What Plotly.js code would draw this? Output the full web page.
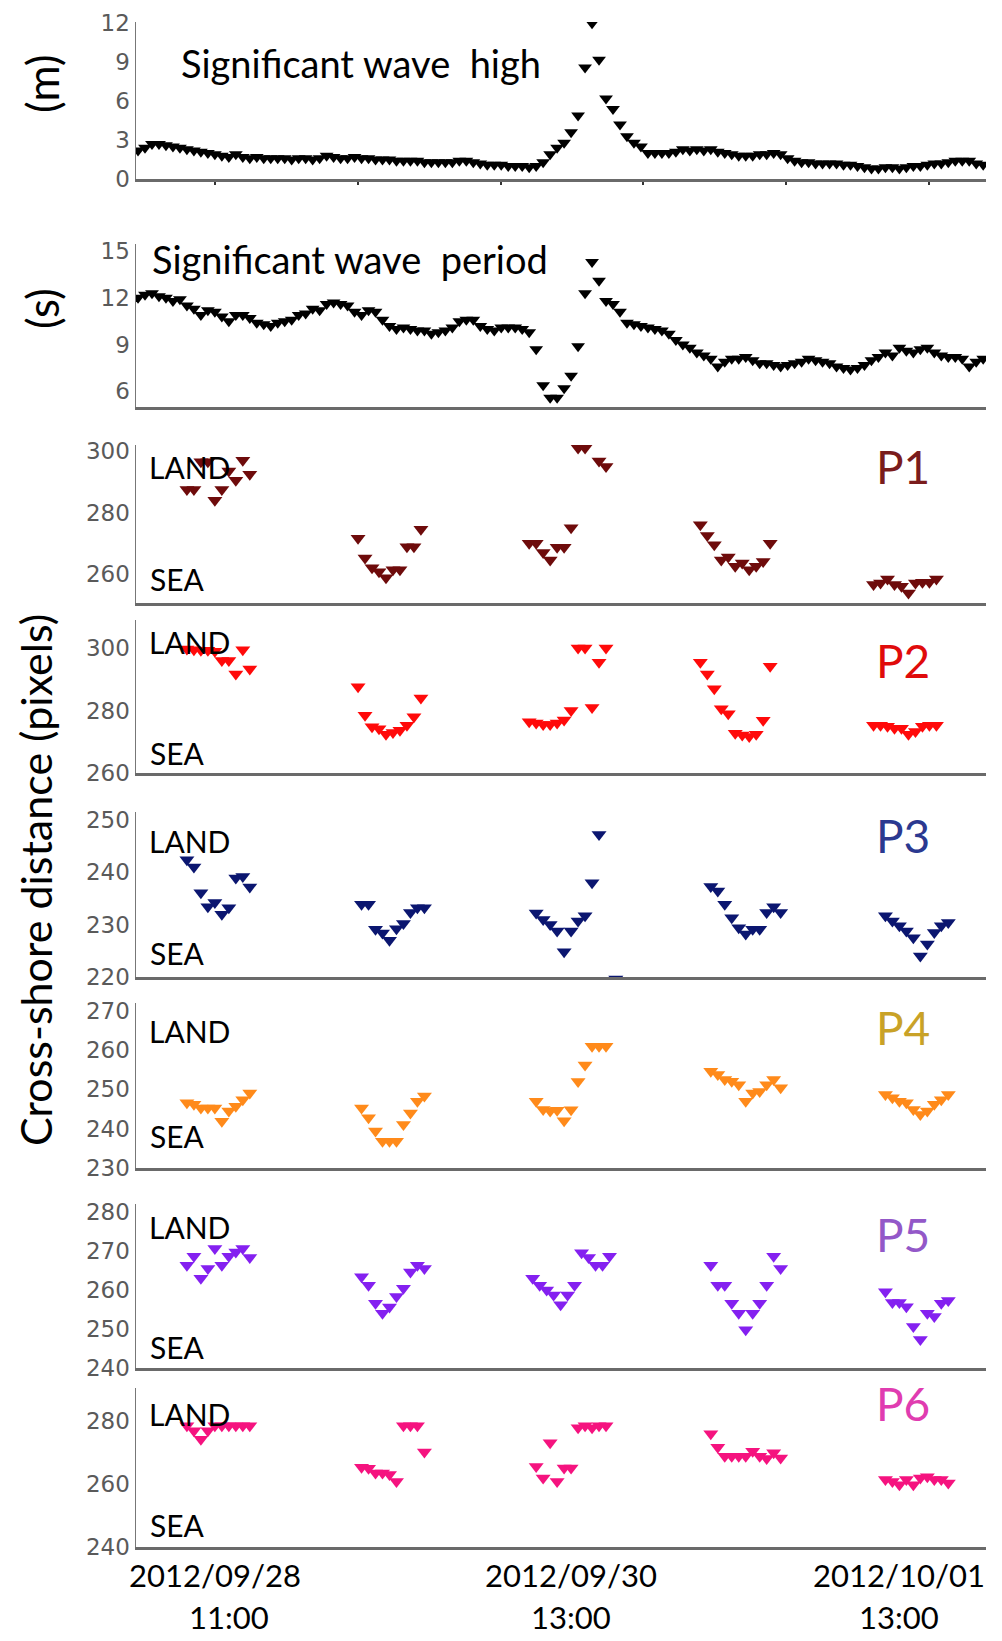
<!DOCTYPE html>
<html>
<head>
<meta charset="utf-8">
<script src="https://cdn.plot.ly/plotly-3.0.1.min.js"></script>
<style>html,body{margin:0;padding:0;background:#fff;}#chart{width:1002px;height:1641px;}</style>
</head>
<body>
<div id="chart"></div>
<script>
// ---------------- DATA ----------------
// wave series, one value per time step (index)
const waveHeight = [
  2.2,2.4,2.7,2.7,2.6,2.5,2.4,2.3,2.2,2.1,
  2.0,1.9,1.8,1.7,1.9,1.7,1.6,1.7,1.6,1.6,
  1.6,1.6,1.5,1.6,1.6,1.5,1.6,1.8,1.7,1.6,
  1.6,1.7,1.6,1.6,1.5,1.5,1.5,1.4,1.4,1.4,
  1.4,1.3,1.3,1.3,1.3,1.3,1.4,1.4,1.3,1.2,
  1.1,1.1,1.1,1.0,1.0,1.0,0.9,1.0,1.3,1.9,
  2.4,2.8,3.6,4.9,8.6,12.0,9.2,6.2,5.4,4.2,
  3.3,2.8,2.5,2.0,2.0,2.0,2.0,2.1,2.3,2.2,
  2.3,2.2,2.3,2.1,2.0,1.9,1.8,1.8,1.8,1.9,
  1.9,2.0,1.9,1.6,1.4,1.3,1.3,1.2,1.2,1.2,
  1.2,1.1,1.1,1.0,0.9,0.8,0.8,0.9,0.9,0.8,
  0.9,1.0,1.0,1.1,1.2,1.2,1.3,1.4,1.4,1.4,
  1.2,1.1
];
const wavePeriod = [
  12.0,12.2,12.3,12.1,12.0,11.8,11.9,11.5,11.3,10.9,
  11.2,11.1,10.8,10.5,10.9,10.9,10.7,10.4,10.3,10.2,
  10.4,10.5,10.6,10.9,11.0,11.3,11.2,11.6,11.7,11.6,
  11.5,11.1,10.9,11.2,11.1,10.6,10.2,10.0,10.1,10.0,
  9.9,9.9,9.7,9.8,9.9,10.1,10.5,10.6,10.6,10.2,
  10.0,9.9,10.1,10.1,10.1,10.0,9.8,8.7,6.4,5.6,
  5.6,6.2,7.0,8.9,12.3,14.3,13.1,11.8,11.6,11.1,
  10.4,10.3,10.2,10.1,10.0,9.9,9.7,9.3,9.0,8.8,
  8.5,8.3,8.1,7.6,7.9,8.1,8.1,8.2,8.0,7.8,
  7.8,7.7,7.6,7.7,7.8,7.9,8.1,8.0,7.9,7.8,
  7.6,7.5,7.4,7.5,7.7,8.0,8.2,8.5,8.3,8.8,
  8.6,8.5,8.7,8.8,8.5,8.3,8.2,8.2,8.1,7.6,
  7.9,8.1
];
const timeIndex = waveHeight.map((_, i) => i);

// cross-shore positions (pixels) per profile, time index of each image
const p1x = [7,8,9,10,11,12,13,14,15,16,
  31.5,32.5,33.5,34.5,35.5,36.5,37.5,38.5,39.5,40.5,
  56,57,58,59,60,61,62,63,64,66,67,
  80.5,81.5,82.5,83.5,84.5,85.5,86.5,87.5,88.5,89.5,90.5,
  105.3,106.3,107.3,108.3,109.3,110.3,111.3,112.3,113.3,114.3];
const p1y = [287.5,287.5,296.5,296.5,284,287.5,293.5,290.5,297,292.5,
  271.6,265.2,262,260.7,258.7,261.3,261.3,268.8,268.8,274.5,
  270,270,267,264.5,268.7,268.7,275,301,301,296.8,295,
  276,272.5,269.5,264.5,265.5,262.5,263.5,261.3,262.5,264,270,
  256.5,257,258.3,256.5,256,253.8,257,257.3,257.3,258.3];

const p2x = [7,8,9,10,11,12,13,14,15,16,
  31.5,32.5,33.5,34.5,35.5,36.5,37.5,38.5,39.5,40.5,
  56,57,58,59,60,61,62,63,64,65,66,67,
  80.5,81.5,82.5,83.5,84.5,85.5,86.5,87.5,88.5,89.5,90.5,
  105.3,106.3,107.3,108.3,109.3,110.3,111.3,112.3,113.3,114.3];
const p2y = [299.7,299.5,299.3,299.3,299,296,296,291.7,299.5,293.3,
  287.6,278.5,274.8,274.2,272.4,273,273.7,275.3,278,284,
  276.4,276,275.5,275.5,276,277,280,300,300,281,295.5,300,
  295.5,291.7,287,280.6,279,272.7,272.2,271.7,272.4,276.9,294.2,
  275.3,275.3,275,274.3,274.3,272.4,273.3,275,275.3,275.3];

const p3x = [7,8,9,10,11,12,13,14,15,16,
  32,33,34,35,36,37,38,39,40,41,
  57,58,59,60,61,62,63,64,65,66,68.4,
  82,83,84,85,86,87,88,89,90,91,92,
  107,108,109,110,111,112,113,114,115,116];
const p3y = [242.4,241,236.1,233.4,234.2,232,233.2,238.9,239.2,237.2,
  233.9,233.9,229.1,228.4,227,229.2,230.2,232.3,233.2,233.2,
  232.2,231,230,228.8,224.8,228.8,230.7,231.7,238,247.2,219.6,
  237.3,236.4,233.9,231.3,229.4,228.2,229.1,229.1,232.3,233.4,232.3,
  231.7,230.7,229.8,228.8,227.5,224,226.3,228.5,229.8,230.4];

const p4x = [7,8,9,10,11,12,13,14,15,16,
  32,33,34,35,36,37,38,39,40,41,
  57,58,59,60,61,62,63,64,65,66,67,
  82,83,84,85,86,87,88,89,90,91,92,
  107,108,109,110,111,112,113,114,115,116];
const p4y = [246.6,246.2,245.3,245.3,245.3,241.9,244.5,245.7,247.4,249.1,
  245.3,242.8,239.4,236.8,236.8,236.8,241.1,244,247,248.3,
  247,244.9,244.5,244.7,242,244.8,252,256.2,261,261,261,
  254.6,253.8,252.5,252.1,251.2,247,249.1,249.5,251.2,252.5,250.4,
  248.7,247.9,247,246.6,244.9,243.6,244.5,246.2,247.4,248.7];

const p5x = [7,8,9,10,11,12,13,14,15,16,
  32,33,34,35,36,37,38,39,40,41,
  56.5,57.5,58.5,59.5,60.5,61.5,62.5,63.5,64.5,65.5,66.5,67.5,
  82,83,84,85,86,87,88,89,90,91,92,
  107,108,109,110,111,112,113,114,115,116];
const p5y = [266.3,268.6,263,265.5,270.6,266.3,268.6,269.7,270.6,268.3,
  263.4,261.2,256.6,254,255.6,258.3,260.4,264.6,266.3,265.5,
  263,261.2,260,258.7,256.2,258.7,261.2,269.5,268.3,266.3,266.3,268.6,
  266.3,261.2,261.2,256.6,254,249.8,254,256.6,261.2,268.6,265.5,
  259.5,256.8,256.8,255.7,250.6,247.3,254,253.2,256.6,257.3];

const p6x = [7,8,9,10,11,12,13,14,15,16,
  32,33,34,35,36,37,38,39,40,41,
  57,58,59,60,61,62,63,64,65,66,67,
  82,83,84,85,86,87,88,89,90,91,92,
  107,108,109,110,111,112,113,114,115,116];
const p6y = [278.5,276.9,274.2,276.9,278.5,278.5,278.5,278.5,278.5,278.5,
  265.3,265,263.5,263.5,263,260.8,278.5,278.5,278.5,270.2,
  265.6,261.9,273.1,260.8,265.1,265.1,277.9,278.5,277.9,278.5,278.5,
  276,271.7,268.8,268.8,268.8,268.8,270.4,268.8,268.1,269.9,268.3,
  261.4,260.8,259.8,261.4,259.8,261.9,262.3,261.4,261.4,260.3];

const profileNames = ['P1','P2','P3','P4','P5','P6'];
const profileX = [p1x,p2x,p3x,p4x,p5x,p6x];
const profileY = [p1y,p2y,p3y,p4y,p5y,p6y];
const markerColors = ['#6e0b0b','#ff0a0a','#0b1670','#ff8a1a','#8420f0','#f5137f'];
const labelColors  = ['#7a1c1c','#e00b0b','#2b3990','#c9a227','#9358c8','#e03cb0'];

const dayTickLabels = [['2012/09/28','11:00'],['2012/09/30','13:00'],['2012/10/01','13:00']];
const dayTickPos = [11, 62, 109];

const yRanges = [[0,12.1],[5,15.45],[250.5,302],[260,309],[220,251.5],[230,272],[240,282],[240,290.5]];
const yTicks = [[0,3,6,9,12],[6,9,12,15],[260,280,300],[260,280,300],[220,230,240,250],[230,240,250,260,270],[240,250,260,270,280],[240,260,280]];

// ---------------- LAYOUT HELPERS ----------------
const W = 1002, H = 1641, L = 136, R = 986;
const panelPx = [[22,179],[244,407],[445,603],[620,773],[812,977],[1003,1168],[1204,1368],[1388,1547]];
const py = p => 1 - p / H;
const pxp = p => (p - L) / (R - L);
const xRange = [-0.29, 121.4];
const topTicks = [11, 31.45, 51.9, 72.35, 92.8, 113.25];

const traces = [];
traces.push({x: timeIndex, y: waveHeight, xaxis:'x', yaxis:'y', mode:'markers', type:'scatter',
  marker:{symbol:'triangle-down', size:12, color:'#000'}});
traces.push({x: timeIndex, y: wavePeriod, xaxis:'x2', yaxis:'y2', mode:'markers', type:'scatter',
  marker:{symbol:'triangle-down', size:12, color:'#000'}});
profileNames.forEach((n, i) => {
  traces.push({x: profileX[i], y: profileY[i], name: n, xaxis:'x'+(i+3), yaxis:'y'+(i+3),
    mode:'markers', type:'scatter', marker:{symbol:'triangle-down', size:13, color: markerColors[i]}});
});

const tickFont = {family:'DejaVu Sans, sans-serif', size:23, color:'#5a5a5a'};
const layout = {
  width: W, height: H, margin:{l:L, r:W-R, t:0, b:0, pad:0},
  paper_bgcolor:'#fff', plot_bgcolor:'#fff', showlegend:false, hovermode:false,
  annotations: [], font:{family:'Lato, sans-serif'}
};
for (let i = 0; i < 8; i++) {
  const s = i === 0 ? '' : String(i+1);
  layout['xaxis'+s] = {
    domain:[0,1], anchor:'y'+s, range:xRange, showgrid:false, zeroline:false,
    showline:true, linecolor:'#6a6a6a', linewidth:2.5, showticklabels:false,
    ticks: i === 0 ? 'outside' : '', tickvals: i === 0 ? topTicks : [], ticklen:3, tickwidth:2, tickcolor:'#333'
  };
  layout['yaxis'+s] = {
    domain:[py(panelPx[i][1]), py(panelPx[i][0])], anchor:'x'+s, range:yRanges[i],
    showgrid:false, zeroline:false, showline:true, linecolor:'#777', linewidth:1.5,
    ticks:'', tickvals:yTicks[i], tickfont:tickFont
  };
}
// small tick marks along the top of the wave-height panel
layout.xaxis9 = {overlaying:'x', anchor:'y', side:'top', range:xRange, showline:false, showgrid:false,
  zeroline:false, ticks:'outside', ticklen:3, tickwidth:2, tickcolor:'#555', tickvals:topTicks, showticklabels:false};

const A = layout.annotations;
const big = (txt, x, y, size, color, opts) => A.push(Object.assign({text:txt, xref:'paper', yref:'paper',
  x:pxp(x), y:py(y), showarrow:false, font:{family:'Lato, sans-serif', size:size, color:color||'#000'},
  xanchor:'center', yanchor:'middle'}, opts||{}));

big('Significant wave\u00a0\u00a0high', 179, 63, 38, '#000', {xanchor:'left'});
big('Significant wave\u00a0\u00a0period', 150, 259, 38, '#000', {xanchor:'left'});
big('(m)', 42, 84, 44, '#000', {textangle:-90});
big('(s)', 42, 309, 44, '#000', {textangle:-90});
big('Cross-shore distance (pixels)', 35, 880, 43, '#000', {textangle:-90});

const landY = [467, 642, 841, 1031, 1227, 1414];
const seaY = [579, 753, 953, 1136, 1347, 1525];
const labY = [466, 660, 835, 1027, 1234, 1403];
profileNames.forEach((n, i) => {
  big('LAND', 147, landY[i], 30, '#000', {xanchor:'left'});
  big('SEA', 148, seaY[i], 30, '#000', {xanchor:'left'});
  big(n, 903, labY[i], 46, labelColors[i]);
});

dayTickLabels.forEach((lab, i) => {
  A.push({text: lab[0], xref:'x8', yref:'paper', x: dayTickPos[i], y: py(1575), showarrow:false,
    xanchor:'center', yanchor:'middle', font:{family:'Lato, sans-serif', size:31, color:'#000'}});
  A.push({text: lab[1], xref:'x8', yref:'paper', x: dayTickPos[i] + (i === 0 ? 2 : 0), y: py(1617), showarrow:false,
    xanchor:'center', yanchor:'middle', font:{family:'Lato, sans-serif', size:31, color:'#000'}});
});

Plotly.newPlot('chart', traces, layout, {staticPlot:true, displayModeBar:false});
</script>
</body>
</html>
